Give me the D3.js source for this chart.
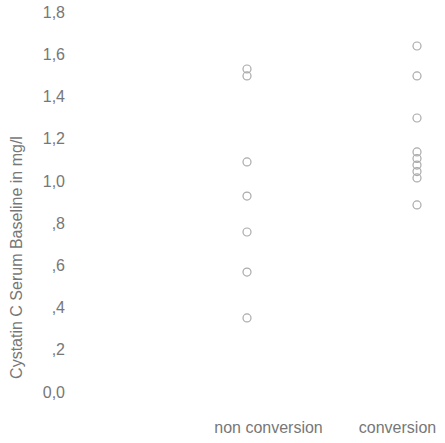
<!DOCTYPE html>
<html>
<head>
<meta charset="utf-8">
<script src="https://cdn.jsdelivr.net/npm/d3@7"></script>
<style>
  html, body { margin: 0; padding: 0; background: #fff; }
  svg { display: block; }
  text { font-family: "Liberation Sans", Arial, sans-serif; }
</style>
</head>
<body>
<svg id="chart" width="445" height="443"></svg>
<script>
// ---- data ----
const categories = ["non conversion", "conversion"];
const nonConversionValues = [1.53, 1.497, 1.09, 0.928, 0.758, 0.568, 0.351];
const conversionValues = [1.639, 1.497, 1.298, 1.137, 1.106, 1.075, 1.044, 1.014, 0.886];
const yTickValues = [0, 0.2, 0.4, 0.6, 0.8, 1.0, 1.2, 1.4, 1.6, 1.8];
const yTickLabels = ["0,0", ",2", ",4", ",6", ",8", "1,0", "1,2", "1,4", "1,6", "1,8"];
const yTitle = "Cystatin C Serum Baseline in mg/l";

const series = [
  { cat: categories[0], values: nonConversionValues },
  { cat: categories[1], values: conversionValues }
];

const svg = d3.select("#chart");
const W = 445, H = 443;
const plot = { top: 12, bottom: 392, left: 70 };

const y = d3.scaleLinear().domain([0, 1.8]).range([plot.bottom, plot.top]);
const x = d3.scalePoint().domain(categories).range([247, 417]);
const xLabel = d3.scalePoint().domain(categories).range([268, 397]);

const textColor = "#777";

// y axis (labels only)
const yAxis = d3.axisLeft(y)
  .tickValues(yTickValues)
  .tickFormat((d, i) => yTickLabels[i])
  .tickSize(0)
  .tickPadding(0);
const gy = svg.append("g").attr("transform", `translate(${plot.left - 5},0)`).call(yAxis);
gy.select(".domain").remove();
gy.selectAll("text")
  .attr("fill", textColor)
  .style("font-size", "16px")
  .style("font-family", "'Liberation Sans', Arial, sans-serif");

// x axis labels
const xAxis = d3.axisBottom(xLabel).tickSize(0).tickPadding(0);
const gx = svg.append("g").attr("transform", `translate(0,${plot.bottom + 30})`).call(xAxis);
gx.select(".domain").remove();
gx.selectAll("text")
  .attr("fill", textColor)
  .style("font-size", "16px")
  .style("font-family", "'Liberation Sans', Arial, sans-serif");

// y title
svg.append("text")
  .attr("transform", `translate(22,${(392 + 123) / 2}) rotate(-90)`)
  .attr("text-anchor", "middle")
  .attr("fill", textColor)
  .style("font-size", "16px")
  .text(yTitle);

// points
const pts = series.flatMap(s => s.values.map(v => ({ cat: s.cat, v })));
svg.append("g")
  .selectAll("circle")
  .data(pts)
  .join("circle")
  .attr("cx", d => x(d.cat))
  .attr("cy", d => y(d.v))
  .attr("r", 4)
  .attr("fill", "none")
  .attr("stroke", "#aaa")
  .attr("stroke-width", 1.2);
</script>
</body>
</html>
